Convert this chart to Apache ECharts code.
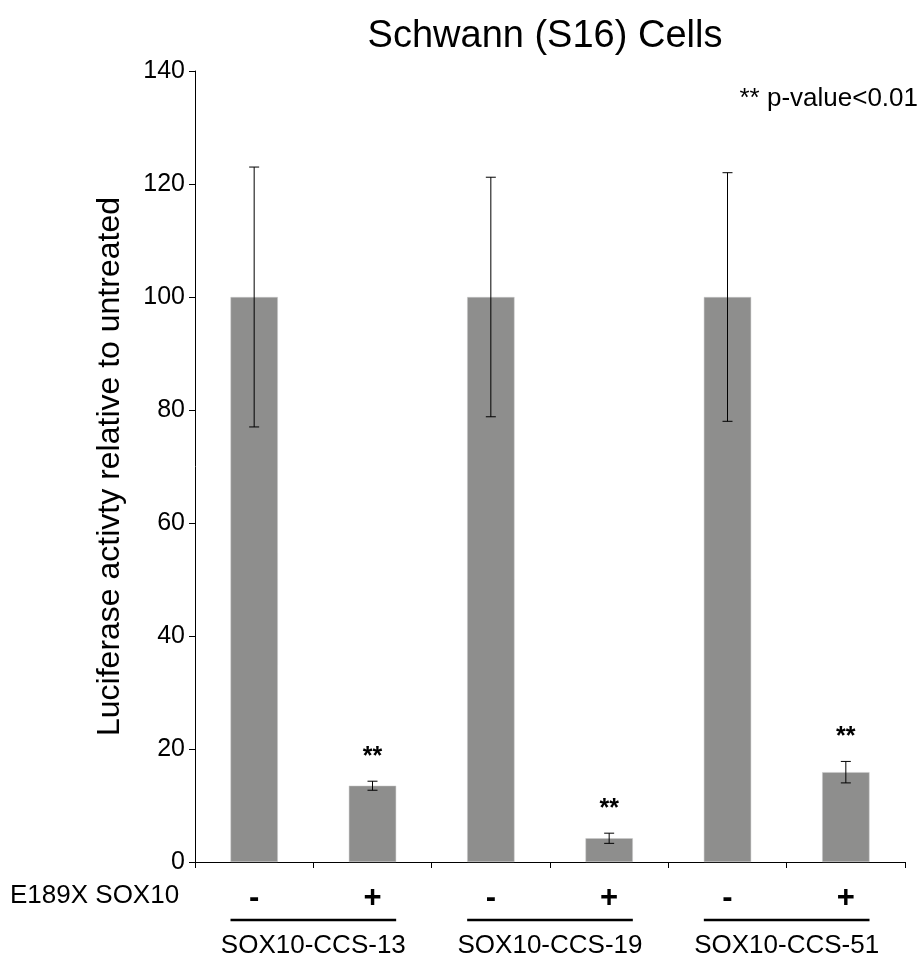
<!DOCTYPE html>
<html><head><meta charset="utf-8">
<script src="https://cdn.jsdelivr.net/npm/echarts@6/dist/echarts.min.js"></script>
<style>html,body{margin:0;padding:0;background:#fff}#c{width:922px;height:963px}</style>
</head><body><div id="c"></div>
<script>
const categories = ['-', '+', '-', '+', '-', '+'];
const groups = ['SOX10-CCS-13', 'SOX10-CCS-19', 'SOX10-CCS-51'];
const values = [100, 13.5, 100, 4.2, 100, 15.9];
const errors = [23.0, 0.8, 21.2, 0.9, 22.0, 1.9];
const significance = ['', '**', '', '**', '', '**'];
const yTicks = [0, 20, 40, 60, 80, 100, 120, 140];

const FONT = 'Liberation Sans, Arial, sans-serif';
const chart = echarts.init(document.getElementById('c'));

const errData = values.map((v, i) => [i, v, errors[i]]);
const groupSpans = groups.map((g, i) => [i * 2, i * 2 + 1]);

chart.setOption({
  animation: false,
  title: {
    text: 'Schwann (S16) Cells', left: 540, top: 13, textAlign: 'center',
    textStyle: { fontFamily: FONT, fontSize: 38, fontWeight: 'normal', color: '#000' }
  },
  graphic: [
    { type: 'text', right: 4, top: 86, style: { text: '** p-value<0.01', font: '26px ' + FONT, fill: '#000' } },
    { type: 'text', left: 10, top: 883, style: { text: 'E189X SOX10', font: '26px ' + FONT, fill: '#000' } }
  ],
  grid: { left: 195, right: 17, top: 71, bottom: 101, containLabel: false },
  xAxis: [
    {
      type: 'category', data: categories, position: 'bottom',
      axisLine: { lineStyle: { color: '#000', width: 1 } },
      axisTick: { show: true, length: 6, alignWithLabel: false, lineStyle: { color: '#000' } },
      axisLabel: { color: '#000', fontFamily: FONT, fontSize: 31, fontWeight: 'bold', margin: 21, interval: 0 }
    },
    {
      type: 'category', data: groups, position: 'bottom', offset: 70,
      axisLine: { show: false }, axisTick: { show: false },
      axisLabel: { color: '#000', fontFamily: FONT, fontSize: 26, margin: 1, interval: 0, hideOverlap: false }
    }
  ],
  yAxis: {
    type: 'value', min: 0, max: 140, interval: 20,
    name: 'Luciferase activty relative to untreated', nameLocation: 'middle', nameGap: 69,
    nameTextStyle: { color: '#000', fontFamily: FONT, fontSize: 32 },
    axisLine: { show: true, lineStyle: { color: '#000', width: 1 } },
    axisTick: { show: true, length: 6, lineStyle: { color: '#000' } },
    axisLabel: { color: '#000', fontFamily: FONT, fontSize: 25, margin: 10,
      formatter: v => yTicks.includes(v) ? String(v) : '' },
    splitLine: { show: false }
  },
  series: [
    {
      type: 'bar', data: values, xAxisIndex: 0, barWidth: '40%',
      itemStyle: { color: '#8e8e8d', borderColor: '#c8c8c8', borderWidth: 0.5 }
    },
    {
      type: 'custom', xAxisIndex: 0, data: errData, z: 5,
      renderItem: (params, api) => {
        const x = api.value(0), v = api.value(1), e = api.value(2);
        const top = api.coord([x, v + e]);
        const bot = api.coord([x, v - e]);
        const cap = 5;
        const st = { stroke: '#000', lineWidth: 1 };
        const children = [
          { type: 'line', shape: { x1: top[0], y1: top[1], x2: bot[0], y2: bot[1] }, style: st },
          { type: 'line', shape: { x1: top[0] - cap, y1: top[1], x2: top[0] + cap, y2: top[1] }, style: st },
          { type: 'line', shape: { x1: bot[0] - cap, y1: bot[1], x2: bot[0] + cap, y2: bot[1] }, style: st }
        ];
        const sig = significance[params.dataIndex];
        if (sig) {
          children.push({ type: 'text', style: { text: sig, x: top[0], y: top[1] - 12,
            align: 'center', verticalAlign: 'bottom', font: 'bold 25px ' + FONT, fill: '#000' } });
        }
        return { type: 'group', children };
      }
    },
    {
      type: 'custom', xAxisIndex: 0, data: groupSpans, clip: false, z: 5,
      renderItem: (params, api) => {
        const a = api.coord([api.value(0), 0]);
        const b = api.coord([api.value(1), 0]);
        const half = api.size([1, 0])[0] * 0.2;
        const y = a[1] + 58;
        return { type: 'line', shape: { x1: a[0] - half, y1: y, x2: b[0] + half, y2: y },
          style: { stroke: '#000', lineWidth: 2.5 } };
      }
    }
  ]
});
</script></body></html>
